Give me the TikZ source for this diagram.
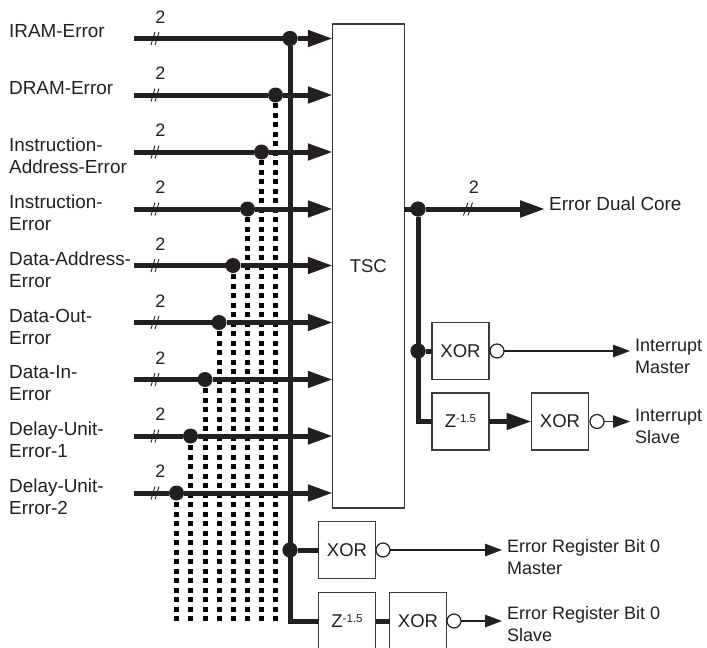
\documentclass[tikz,border=0pt]{standalone}
\usepackage{fontspec}
\setmainfont{Liberation Sans}
\usetikzlibrary{arrows.meta,calc}
\definecolor{ink}{HTML}{231F20}
\definecolor{edge}{HTML}{3C3C3C}
\tikzset{
  bus/.style={line width=5pt,draw=ink},
  busarrow/.style={bus,-{Triangle[length=25pt,width=16pt]},shorten >=-0.5pt},
  thinarrow/.style={line width=1.2pt,draw=ink,-{Triangle[length=17pt,width=12.5pt]}},
  dotbus/.style={line width=5pt,draw=black,dash pattern=on 4.7pt off 4.8pt},
  junction/.style={circle,fill=ink,minimum size=15pt,inner sep=0pt,outer sep=0pt},
  inv/.style={circle,draw=ink,fill=white,line width=1.2pt,minimum size=14pt,inner sep=0pt,outer sep=0pt},
  blockbox/.style={draw=edge,fill=white,line width=1.2pt,minimum width=57pt,minimum height=57pt,inner sep=0pt,outer sep=0pt,text=ink,font=\fontsize{18.5}{22}\selectfont},
  lbl/.style={anchor=west,align=left,inner sep=0pt,text=ink,font=\fontsize{18}{22}\selectfont},
  biglbl/.style={lbl,font=\fontsize{18.9}{22}\selectfont},
  txt/.style={inner sep=0pt,text=ink,font=\fontsize{18}{22}\selectfont},
  slash/.style={line width=0.9pt,draw=ink},
}
\newcommand{\zblock}{Z\raisebox{5pt}{\fontsize{11.5}{12}\selectfont -1.5}}
\begin{document}
\begin{tikzpicture}[x=1pt,y=-1pt]
\useasboundingbox (0,0) rectangle (707,648);

% blocks
\node[blockbox,minimum width=72pt,minimum height=484pt] (tsc) at (368.25,266) {TSC};
\node[blockbox] (xa) at (460.5,351) {XOR};
\node[blockbox] (za) at (460.5,421.5) {\zblock};
\node[blockbox] (xb) at (560,421.5) {XOR};
\node[blockbox] (xc) at (347,550) {XOR};
\node[blockbox] (zc) at (347,621) {\zblock};
\node[blockbox] (xd) at (418,621) {XOR};

% inputs
\foreach \i/\x/\y in {1/290/38.5,2/275.5/95,3/261.5/152,4/247.5/209,5/233/265.5,6/219/322.5,7/205/379.5,8/190.5/436,9/176.5/493}{
  \coordinate (in\i) at (134,\y);
  \node[junction] (d\i) at (\x,\y) {};
  \node[txt] (two\i) at (160.5,\y-21.5) {2};
}
\coordinate (corner) at (290,621);
% dotted verticals, drawn upward so the rows line up
\foreach \i in {2,...,9}{
  \draw[dotbus] (d\i |- corner) -- (d\i);
}
% horizontal inputs
\foreach \i in {1,...,9}{
  \draw[bus] (in\i) -- (d\i);
  \draw[busarrow] (d\i) -- (d\i -| tsc.west);
  \draw[slash] ($(in\i)+(17,6.5)$) -- ($(in\i)+(21,-6.5)$);
  \draw[slash] ($(in\i)+(21,6.5)$) -- ($(in\i)+(25,-6.5)$);
}
% vertical bus and lower blocks
\node[junction] (dc) at (290,550) {};
\draw[bus,line join=miter] (d1) -- (corner) -- (zc.west);
\draw[bus] (dc) -- (xc.west);
\draw[bus] (zc.east) -- (xd.west);
\node[junction] at (d1) {};
\node[junction] at (dc) {};
\node[inv] (ic) at (383,550) {};
\node[inv] (id) at (454,621) {};
\coordinate (oc) at (502,550);
\coordinate (od) at (502,621);
\draw[thinarrow] (ic) -- (oc);
\draw[thinarrow] (id) -- (od);

% output side
\node[junction] (do) at (418,209) {};
\node[junction] (dm) at (418,351) {};
\coordinate (oe) at (545,209);
\coordinate (cr) at (418,421.5);
\draw[bus] (tsc.east |- do) -- (do);
\draw[busarrow,shorten >=0pt] (do) -- (oe);
\draw[bus,line join=miter] (do) -- (cr) -- (za.west);
\draw[bus] (dm) -- (xa.west);
\draw[busarrow,shorten >=0pt] (za.east) -- (xb.west);
\node[junction] at (do) {};
\node[junction] at (dm) {};
\draw[slash] (463.5,215.5) -- (468,202.5);
\draw[slash] (468,215.5) -- (472.5,202.5);
\node[txt] (twoo) at (474,187) {2};
\node[inv] (ia) at (497,351) {};
\node[inv] (ib) at (597,421.5) {};
\coordinate (oa) at (630,351);
\coordinate (ob) at (630,421.5);
\draw[thinarrow] (ia) -- (oa);
\draw[thinarrow] (ib) -- (ob);

% labels
\node[biglbl] at (9,31) {IRAM-Error};
\node[biglbl] at (9,88) {DRAM-Error};
\node[biglbl] at (9,156) {Instruction-\\Address-Error};
\node[biglbl] at (9,212.5) {Instruction-\\Error};
\node[biglbl] at (9,269.5) {Data-Address-\\Error};
\node[biglbl] at (9,326.5) {Data-Out-\\Error};
\node[biglbl] at (9,383.5) {Data-In-\\Error};
\node[biglbl] at (9,440) {Delay-Unit-\\Error-1};
\node[biglbl] at (9,497) {Delay-Unit-\\Error-2};
\node[biglbl] at (549,204) {Error Dual Core};
\node[lbl] at (635,356.5) {Interrupt\\Master};
\node[lbl] at (635,426.5) {Interrupt\\Slave};
\node[lbl] at (507,557) {Error Register Bit 0\\Master};
\node[lbl] at (507,624) {Error Register Bit 0\\Slave};
\end{tikzpicture}
\end{document}
